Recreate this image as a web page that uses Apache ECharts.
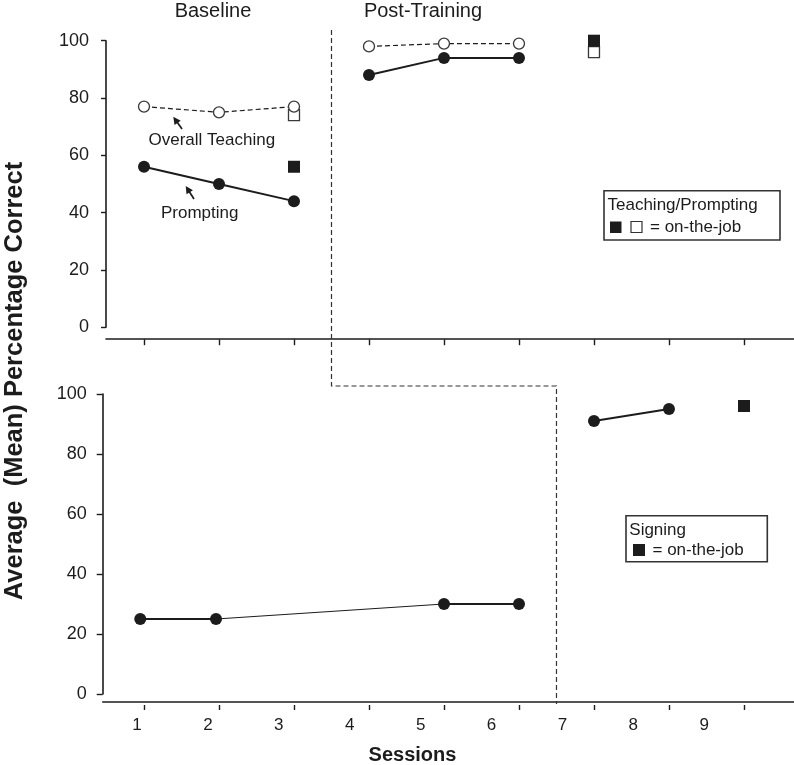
<!DOCTYPE html>
<html>
<head>
<meta charset="utf-8">
<script src="https://cdn.jsdelivr.net/npm/echarts@6/dist/echarts.min.js"></script>
<style>
html,body{margin:0;padding:0;background:#fff;}
#chart{width:794px;height:765px;}
</style>
</head>
<body>
<div id="chart"></div>
<script>
// ---- data ----
const sessionTicks = [1, 2, 3, 4, 5, 6, 7, 8, 9];
const sessionLabels = ['1', '2', '3', '4', '5', '6', '7', '8', '9'];

// Top panel: Teaching / Prompting
const baseSessions = [1, 2, 3];
const postSessions = [4, 5, 6];
const overallBaseline = [77, 75, 77];
const overallPost = [98, 99, 99];
const promptBaseline = [56, 50, 44];
const promptPost = [88, 94, 94];
const jobSessions = [3, 7];
const jobTeaching = [74, 96];
const jobPrompting = [56, 100];

// Bottom panel: Signing
const signBaseSessions = [0.95, 1.96, 5, 6];
const signBaseline = [25, 25, 30, 30];
const signPostSessions = [7, 8];
const signPost = [91, 95];
const signJobSessions = [9];
const signJob = [96];

// phase-change lines (between sessions)
const phaseChanges = [3.5, 6.5];

// ---- helpers ----
const FONT = "'Liberation Sans', Arial, Helvetica, sans-serif";
const INK = '#1c1c1c';
function pairs(xs, ys) { return xs.map((x, i) => [x, ys[i]]); }

const openCircle = { color: '#fff', borderColor: '#3a3a3a', borderWidth: 1.3, opacity: 1 };
const filled = { color: INK, borderColor: INK, borderWidth: 0, opacity: 1 };

const chart = echarts.init(document.getElementById('chart'), null, { renderer: 'canvas' });

function yAxisCfg(grid, tickLen, margin) {
  return {
    gridIndex: grid, type: 'value', min: 0, max: 100, interval: 20, position: 'left',
    axisLine: { show: true, lineStyle: { color: INK, width: 1.6 } },
    axisTick: { show: true, length: tickLen, lineStyle: { color: INK, width: 1.4 } },
    axisLabel: { show: true, margin: margin, fontSize: 18, color: INK, fontFamily: FONT },
    splitLine: { show: false }
  };
}

const signSegThick = [[0, 1], [2, 3]];
const signSegThin = [[1, 2]];

const series = [];
// Overall teaching (open circles, dashed)
[[baseSessions, overallBaseline], [postSessions, overallPost]].forEach(([xs, ys]) => {
  series.push({
    type: 'line', xAxisIndex: 0, yAxisIndex: 0, data: pairs(xs, ys),
    symbol: 'circle', symbolSize: 11, showSymbol: true,
    lineStyle: { color: INK, width: 1.2, type: [5, 3] },
    itemStyle: openCircle, z: 4, animation: false
  });
});
// Prompting (filled circles, solid)
[[baseSessions, promptBaseline], [postSessions, promptPost]].forEach(([xs, ys]) => {
  series.push({
    type: 'line', xAxisIndex: 0, yAxisIndex: 0, data: pairs(xs, ys),
    symbol: 'circle', symbolSize: 12,
    lineStyle: { color: INK, width: 2 },
    itemStyle: filled, z: 4, animation: false
  });
});
// on-the-job squares (top)
series.push({
  type: 'scatter', xAxisIndex: 0, yAxisIndex: 0, data: pairs(jobSessions, jobTeaching),
  symbol: 'rect', symbolSize: 11, itemStyle: { color: '#fff', borderColor: '#3a3a3a', borderWidth: 1.3, opacity: 1 }, z: 3, animation: false
});
series.push({
  type: 'scatter', xAxisIndex: 0, yAxisIndex: 0, data: pairs(jobSessions, jobPrompting),
  symbol: 'rect', symbolSize: 12, itemStyle: filled, z: 3, animation: false
});
// Signing baseline: line segments + points
signSegThick.forEach(([a, b]) => {
  series.push({
    type: 'line', xAxisIndex: 1, yAxisIndex: 1,
    data: pairs([signBaseSessions[a], signBaseSessions[b]], [signBaseline[a], signBaseline[b]]),
    showSymbol: false, symbol: 'none', lineStyle: { color: INK, width: 2 }, animation: false
  });
});
signSegThin.forEach(([a, b]) => {
  series.push({
    type: 'line', xAxisIndex: 1, yAxisIndex: 1,
    data: pairs([signBaseSessions[a], signBaseSessions[b]], [signBaseline[a], signBaseline[b]]),
    showSymbol: false, symbol: 'none', lineStyle: { color: INK, width: 1 }, animation: false
  });
});
series.push({
  type: 'scatter', xAxisIndex: 1, yAxisIndex: 1, data: pairs(signBaseSessions, signBaseline),
  symbol: 'circle', symbolSize: 12, itemStyle: filled, z: 4, animation: false
});
series.push({
  type: 'line', xAxisIndex: 1, yAxisIndex: 1, data: pairs(signPostSessions, signPost),
  symbol: 'circle', symbolSize: 12, lineStyle: { color: INK, width: 2 }, itemStyle: filled, z: 4, animation: false
});
series.push({
  type: 'scatter', xAxisIndex: 1, yAxisIndex: 1, data: pairs(signJobSessions, signJob),
  symbol: 'rect', symbolSize: 12, itemStyle: filled, animation: false
});

const option = {
  animation: false,
  backgroundColor: '#fff',
  textStyle: { fontFamily: FONT },
  grid: [
    { left: 106, top: 40.7, width: 688, height: 286.5, containLabel: false },
    { left: 102.7, top: 394, width: 691.3, height: 300, containLabel: false }
  ],
  xAxis: [
    { // top panel
      gridIndex: 0, type: 'value', position: 'bottom', min: 0.4933, max: 9.667, offset: 12,
      axisLine: { show: true, onZero: false, lineStyle: { color: INK, width: 1.6 } },
      axisTick: { show: true, length: 6, customValues: sessionTicks, lineStyle: { color: INK, width: 1.4 } },
      axisLabel: { show: false }, splitLine: { show: false }
    },
    { // bottom panel ticks
      gridIndex: 1, type: 'value', position: 'bottom', min: 0.4493, max: 9.667, offset: 11,
      axisLine: { show: false, onZero: false },
      axisTick: { show: true, length: 5, customValues: sessionTicks, lineStyle: { color: INK, width: 1.4 } },
      axisLabel: { show: false }, splitLine: { show: false }
    },
    { // bottom panel labels + axis line
      gridIndex: 1, type: 'value', position: 'bottom', min: 0.5162, max: 10.2665, offset: 7.5,
      axisLine: { show: true, onZero: false, lineStyle: { color: INK, width: 1.6 } },
      axisTick: { show: false },
      axisLabel: {
        show: true, customValues: sessionTicks, margin: 15, fontSize: 17, color: INK, fontFamily: FONT,
        formatter: v => sessionLabels[sessionTicks.indexOf(Math.round(v))] || ''
      },
      splitLine: { show: false }
    }
  ],
  yAxis: [yAxisCfg(0, 5, 17), yAxisCfg(1, 6, 16)],
  series: series
};
chart.setOption(option);

// ---- annotations & phase lines ----
function arrow(x1, y1, x2, y2) {
  const dx = x2 - x1, dy = y2 - y1, L = Math.hypot(dx, dy);
  const ux = dx / L, uy = dy / L, nx = -uy, ny = ux;
  const hl = 7.5, hw = 3.8;
  const bx = x2 - ux * hl, by = y2 - uy * hl;
  return [
    { type: 'line', shape: { x1: x1, y1: y1, x2: bx + ux, y2: by + uy }, style: { stroke: INK, lineWidth: 1.7 } },
    { type: 'polygon', shape: { points: [[x2, y2], [bx + nx * hw, by + ny * hw], [bx - nx * hw, by - ny * hw]] }, style: { fill: INK } }
  ];
}
function txt(x, y, s, size, opts) {
  return Object.assign({
    type: 'text', x: x, y: y,
    style: Object.assign({ text: s, font: (opts && opts.weight || 'normal') + ' ' + size + 'px ' + FONT, fill: INK,
      textAlign: 'left', textVerticalAlign: 'middle' }, opts && opts.style || {})
  }, opts && opts.el || {});
}

const xPhase1 = chart.convertToPixel({ xAxisIndex: 0 }, phaseChanges[0]);
const xPhase2 = chart.convertToPixel({ xAxisIndex: 1 }, phaseChanges[1]);
const dashStyle = { stroke: '#333', lineWidth: 1.2, lineDash: [5, 3], fill: null };

const g = [
  { type: 'polyline', shape: { points: [[xPhase1, 30], [xPhase1, 386], [xPhase2, 386], [xPhase2, 704]] }, style: dashStyle, z: 1 },
  txt(213, 11, 'Baseline', 20, { style: { textAlign: 'center' } }),
  txt(423, 11, 'Post-Training', 20, { style: { textAlign: 'center' } }),
  txt(148.5, 140, 'Overall Teaching', 17),
  txt(161, 213, 'Prompting', 17),
  ...arrow(182, 129, 173.3, 116.7),
  ...arrow(194, 199, 185.7, 186),
  // top legend box
  { type: 'rect', shape: { x: 604, y: 190.7, width: 176, height: 49.3 }, style: { fill: '#fff', stroke: '#333', lineWidth: 1.6 }, z: 5 },
  txt(607.5, 205.5, 'Teaching/Prompting', 17, { el: { z: 6 } }),
  { type: 'rect', shape: { x: 610, y: 221.5, width: 11.5, height: 11.5 }, style: { fill: INK }, z: 6 },
  { type: 'rect', shape: { x: 631, y: 221.5, width: 11, height: 11 }, style: { fill: '#fff', stroke: '#333', lineWidth: 1.2 }, z: 6 },
  txt(650, 227.5, '= on-the-job', 17, { el: { z: 6 } }),
  // bottom legend box
  { type: 'rect', shape: { x: 626, y: 515.7, width: 141.3, height: 46 }, style: { fill: '#fff', stroke: '#333', lineWidth: 1.6 }, z: 5 },
  txt(629.3, 530.5, 'Signing', 17, { el: { z: 6 } }),
  { type: 'rect', shape: { x: 633, y: 544, width: 12, height: 12 }, style: { fill: INK }, z: 6 },
  txt(652.5, 550.5, '= on-the-job', 17, { el: { z: 6 } }),
  // axis titles
  txt(412.5, 755, 'Sessions', 20, { weight: 'bold', style: { textAlign: 'center' } }),
  txt(15, 381, 'Average  (Mean) Percentage Correct', 25.5, { weight: 'bold', style: { textAlign: 'center' }, el: { rotation: Math.PI / 2 } })
];
chart.setOption({ graphic: { elements: g } });
</script>
</body>
</html>
